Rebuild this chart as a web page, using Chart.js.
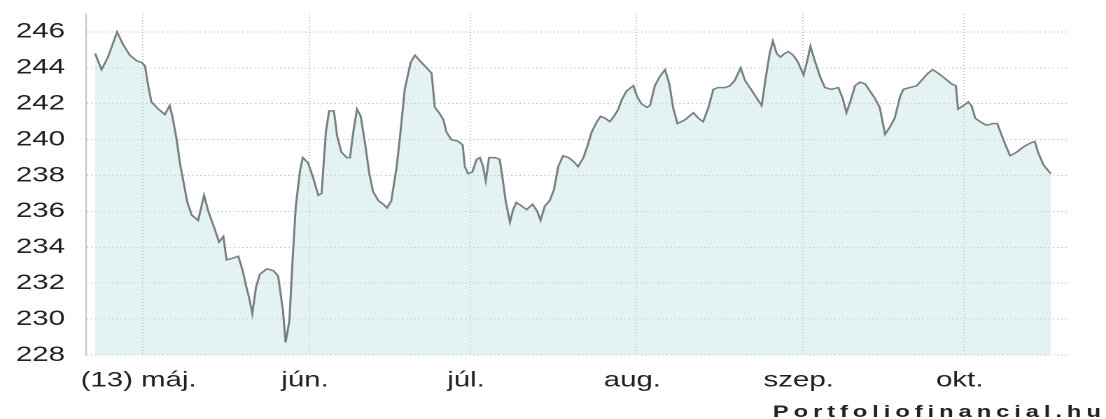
<!DOCTYPE html>
<html>
<head>
<meta charset="utf-8">
<script src="https://cdn.jsdelivr.net/npm/chart.js@4.4.1/dist/chart.umd.min.js"></script>
<style>
html,body{margin:0;padding:0;background:#ffffff;overflow:hidden}
</style>
</head>
<body>
<canvas id="c" width="790" height="419" style="display:block;width:1106px;height:419px"></canvas>
<script>
// x positions: day of year 2013
const days = [
112.1,113.3,114.5,116.2,117.3,118.6,119.8,120.8,121.4,122.0,122.6,123.9,125.1,126.0,126.5,127.3,127.9,128.6,129.3,130.1,
131.3,132.4,133.2,134.4,135.2,136.0,136.6,137.8,138.8,139.6,140.2,140.8,141.4,142.1,142.8,144.1,145.3,146.2,147.1,147.6,
148.3,148.9,149.5,150.3,150.8,151.8,152.7,153.7,154.3,155.1,155.7,156.6,157.2,158.0,159.0,159.6,160.2,160.9,161.6,162.4,
163.2,163.9,164.9,165.8,166.5,167.3,168.3,169.0,169.8,170.9,171.7,172.9,173.9,174.8,175.4,176.2,177.0,177.6,178.5,179.8,
180.6,181.0,181.6,182.4,183.2,183.8,184.4,184.9,185.5,186.6,187.5,188.0,188.6,189.4,190.0,190.6,191.6,192.5,193.6,194.5,
195.1,195.9,196.8,197.6,198.4,199.3,200.3,201.2,202.1,203.1,203.8,204.6,205.6,206.3,207.1,208.0,208.8,209.6,210.2,211.1,
212.4,213.1,213.9,214.9,215.5,216.4,217.3,218.3,219.1,219.8,220.6,222.0,223.6,224.5,225.4,226.4,227.3,228.2,229.5,230.4,
231.3,232.4,233.2,234.1,235.2,236.3,237.2,237.8,238.4,239.1,239.8,240.6,241.3,242.2,243.1,244.1,244.8,245.4,246.2,247.2,
248.1,249.3,250.6,251.4,252.1,252.8,253.7,254.6,255.6,256.5,257.4,258.3,258.9,259.3,260.2,261.1,262.1,262.7,263.9,265.2,
266.4,267.3,268.2,269.2,270.5,271.7,272.5,272.9,273.9,274.8,275.4,276.1,277.0,278.2,279.5,280.2,280.7,281.6,282.6,283.8,
285.1,286.3,287.2,287.8,288.8,290.2
];
const values = [
244.8,243.9,244.6,246.0,245.3,244.7,244.4,244.3,244.1,243.0,242.1,241.7,241.4,241.9,241.3,240.0,238.7,237.6,236.5,235.8,
235.5,236.9,236.0,235.0,234.3,234.6,233.3,233.4,233.5,232.7,231.9,231.2,230.3,231.8,232.5,232.8,232.7,232.4,230.5,228.7,
229.9,233.3,236.3,238.3,239.0,238.7,237.9,236.9,237.0,240.4,241.6,241.6,240.2,239.3,239.0,239.0,240.4,241.7,241.3,239.8,
238.1,237.1,236.6,236.4,236.2,236.6,238.5,240.4,242.8,244.3,244.7,244.3,244.0,243.7,241.8,241.5,241.1,240.4,240.0,239.9,
239.7,238.5,238.1,238.2,238.9,239.0,238.5,237.7,239.0,239.0,238.9,237.9,236.6,235.4,236.1,236.5,236.3,236.1,236.4,236.0,
235.5,236.3,236.6,237.2,238.5,239.1,239.0,238.8,238.5,239.0,239.6,240.4,241.0,241.3,241.2,241.0,241.3,241.7,242.2,242.7,
243.0,242.4,242.0,241.8,241.9,243.0,243.5,243.9,243.1,241.8,240.9,241.1,241.5,241.2,241.0,241.8,242.8,242.9,242.9,243.0,
243.3,244.0,243.3,242.9,242.4,241.9,243.7,244.8,245.5,244.8,244.6,244.8,244.9,244.7,244.3,243.6,244.4,245.2,244.4,243.5,
242.9,242.8,242.9,242.3,241.5,242.1,243.0,243.2,243.1,242.7,242.3,241.8,240.9,240.3,240.7,241.2,242.4,242.8,242.9,243.0,
243.4,243.7,243.9,243.7,243.4,243.1,243.0,241.7,241.9,242.1,241.9,241.2,241.0,240.8,240.9,240.9,240.5,239.8,239.1,239.3,
239.6,239.8,239.9,239.3,238.6,238.1
];
const monthStarts = [121, 152, 182, 213, 244, 274];
const monthLabels = ['(13) máj.', 'jún.', 'júl.', 'aug.', 'szep.', 'okt.'];
const yTicks = [228, 230, 232, 234, 236, 238, 240, 242, 244, 246];
const sourceLabel = 'Portfoliofinancial.hu';

const gridColor = 'rgba(150,150,150,0.55)';

const sourcePlugin = {
  id: 'sourceLabel',
  afterDraw(chart) {
    const ctx = chart.ctx;
    ctx.save();
    ctx.font = 'bold 17px "Liberation Sans", Arial, sans-serif';
    ctx.fillStyle = '#222222';
    try { ctx.letterSpacing = '3.5px'; } catch (e) {}
    ctx.textAlign = 'left';
    ctx.textBaseline = 'alphabetic';
    ctx.fillText(sourceLabel, 552, 417);
    ctx.restore();
  }
};

new Chart(document.getElementById('c'), {
  type: 'line',
  data: {
    datasets: [{
      data: days.map((d, i) => ({ x: d, y: values[i] })),
      borderColor: '#76807f',
      borderWidth: 1.5,
      backgroundColor: 'rgba(190,225,228,0.42)',
      fill: 'start',
      tension: 0,
      pointRadius: 0
    }]
  },
  options: {
    responsive: false,
    animation: false,
    devicePixelRatio: 2,
    layout: { padding: { top: 14, right: 27.1, left: 0, bottom: 0 } },
    plugins: { legend: { display: false }, tooltip: { enabled: false } },
    scales: {
      x: {
        type: 'linear',
        min: 110.4,
        max: 293.4,
        afterBuildTicks: (axis) => { axis.ticks = monthStarts.map(v => ({ value: v })); },
        afterFit: (axis) => { axis.height = 64; axis.paddingLeft = 0; axis.paddingRight = 0; },
        ticks: {
          autoSkip: false,
          maxRotation: 0,
          padding: 13,
          labelOffset: -3,
          color: '#222222',
          font: { family: '"Liberation Sans", Arial, sans-serif', size: 21 },
          callback: (v) => monthLabels[monthStarts.indexOf(v)]
        },
        grid: { color: gridColor, drawTicks: false, lineWidth: 1 },
        border: { display: false, dash: [1, 2] }
      },
      y: {
        min: 228,
        max: 247,
        afterBuildTicks: (axis) => { axis.ticks = yTicks.map(v => ({ value: v })); },
        afterFit: (axis) => { axis.width = 61.4; axis.paddingTop = 0; axis.paddingBottom = 0; },
        ticks: {
          padding: 15,
          color: '#222222',
          font: { family: '"Liberation Sans", Arial, sans-serif', size: 21 },
          callback: (v) => String(v)
        },
        grid: { color: gridColor, drawTicks: false, lineWidth: 1 },
        border: { display: true, color: gridColor, dash: [1, 2] }
      }
    }
  },
  plugins: [sourcePlugin]
});
</script>
</body>
</html>
